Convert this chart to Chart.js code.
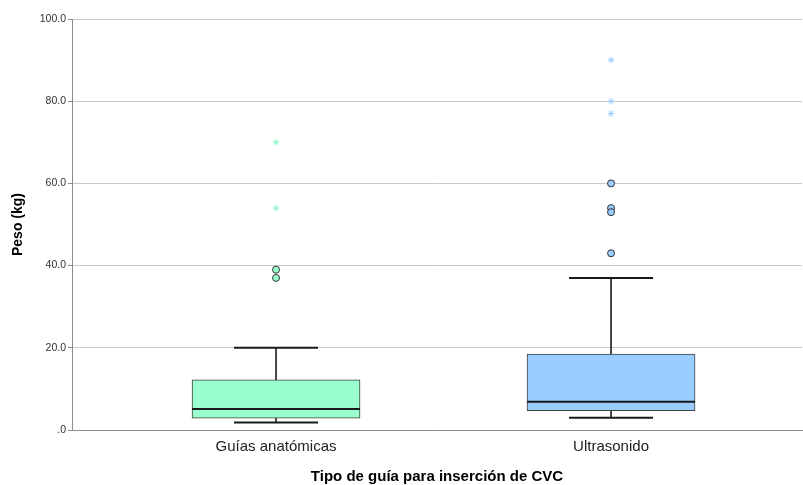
<!DOCTYPE html>
<html>
<head>
<meta charset="utf-8">
<script src="https://cdn.jsdelivr.net/npm/chart.js@4/dist/chart.umd.min.js"></script>
<style>
  html, body { margin: 0; padding: 0; background: #ffffff; }
  canvas { display: block; }
</style>
</head>
<body>
<canvas id="chart" width="803" height="485"></canvas>
<script>
// Peso (kg) by tipo de guía: box-plot summaries
const categories  = ['Guías anatómicas', 'Ultrasonido'];
const whiskerLow  = [1.8, 3.0];
const quartile1   = [2.9, 4.7];
const medians     = [5.1, 6.9];
const quartile3   = [12.2, 18.5];
const whiskerHigh = [20.0, 37.0];
const outliers    = [[39, 37], [60, 54, 53, 43]];   // drawn as circles
const extremes    = [[70, 54], [90, 80, 77]];       // drawn as asterisks
const yTicks      = [0, 20, 40, 60, 80, 100];

// Layout and style
const groupX     = [27.95, 73.84];   // group centres on a 0..100 horizontal scale
const boxWidth   = 168;
const capWidth   = 84;
const boxFills   = ['#99ffcc', '#99ccff'];
const starColors = ['#8ef5c6', '#99ccff'];
const FONT = "'Liberation Sans', Arial, sans-serif";

const datasets = [];

// whisker stems (drawn first, box covers the inner part)
categories.forEach((c, i) => {
  datasets.push({
    type: 'line',
    data: [{ x: groupX[i], y: whiskerLow[i] }, { x: groupX[i], y: whiskerHigh[i] }],
    borderColor: '#1a1a1a',
    borderWidth: 1.6,
    pointRadius: 0,
    order: 4
  });
});

// boxes: floating bars from Q1 to Q3
datasets.push({
  type: 'bar',
  data: categories.map((c, i) => ({ x: groupX[i], y: [quartile1[i], quartile3[i]] })),
  backgroundColor: boxFills,
  borderColor: '#404040',
  borderWidth: 1,
  borderSkipped: false,
  barThickness: boxWidth,
  order: 3
});

// medians
datasets.push({
  type: 'scatter',
  data: categories.map((c, i) => ({ x: groupX[i], y: medians[i] })),
  pointStyle: 'line',
  pointRadius: boxWidth / 2,
  borderColor: '#1a1a1a',
  borderWidth: 2,
  order: 2
});

// whisker caps
datasets.push({
  type: 'scatter',
  data: categories.flatMap((c, i) => [
    { x: groupX[i], y: whiskerLow[i] },
    { x: groupX[i], y: whiskerHigh[i] }
  ]),
  pointStyle: 'line',
  pointRadius: capWidth / 2,
  borderColor: '#1a1a1a',
  borderWidth: 2,
  order: 2
});

// outliers and extremes
categories.forEach((c, i) => {
  datasets.push({
    type: 'scatter',
    data: outliers[i].map(v => ({ x: groupX[i], y: v })),
    pointStyle: 'circle',
    pointRadius: 3.5,
    backgroundColor: boxFills[i],
    borderColor: '#333333',
    borderWidth: 1,
    order: 1
  });
  datasets.push({
    type: 'scatter',
    data: extremes[i].map(v => ({ x: groupX[i], y: v })),
    pointStyle: 'star',
    pointRadius: 3.2,
    borderColor: starColors[i],
    borderWidth: 1,
    order: 1
  });
});

new Chart(document.getElementById('chart'), {
  type: 'bar',
  data: { datasets },
  options: {
    responsive: false,
    animation: false,
    events: [],
    layout: { autoPadding: false, padding: { top: 19, right: 1, left: 0, bottom: 0 } },
    plugins: { legend: { display: false }, tooltip: { enabled: false } },
    scales: {
      x: {
        type: 'linear',
        min: 0,
        max: 100,
        offset: false,
        afterBuildTicks: s => { s.ticks = groupX.map(v => ({ value: v })); },
        afterFit: s => { s.height = 55; },
        grid: { display: false, drawTicks: false, offset: false },
        border: { display: true, color: '#8c8c8c', width: 1 },
        ticks: {
          autoSkip: false,
          maxRotation: 0,
          padding: 8,
          color: '#222222',
          font: { family: FONT, size: 15 },
          callback: (v, idx) => categories[idx]
        },
        title: {
          display: true,
          text: 'Tipo de guía para inserción de CVC',
          color: '#000000',
          font: { family: FONT, size: 15, weight: 'bold', lineHeight: 1.05 },
          padding: { top: 0, bottom: 0 }
        }
      },
      y: {
        type: 'linear',
        min: 0,
        max: 100,
        afterBuildTicks: s => { s.ticks = yTicks.map(v => ({ value: v })); },
        afterFit: s => { s.width = 72; },
        grid: { color: '#c8c8c8', lineWidth: 1, tickLength: 4, tickColor: '#8c8c8c' },
        border: { display: true, color: '#8c8c8c', width: 1 },
        ticks: {
          padding: 2,
          color: '#333333',
          font: { family: FONT, size: 10.5 },
          callback: v => (v === 0 ? '.0' : v.toFixed(1))
        },
        title: {
          display: true,
          text: 'Peso (kg)',
          color: '#000000',
          font: { family: FONT, size: 14, weight: 'bold' },
          padding: { top: 10, bottom: 0 }
        }
      }
    }
  }
});
</script>
</body>
</html>
